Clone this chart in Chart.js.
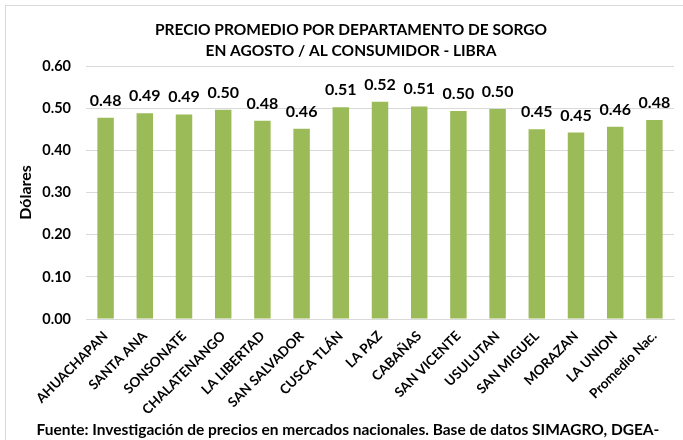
<!DOCTYPE html>
<html>
<head>
<meta charset="utf-8">
<script src="https://cdn.jsdelivr.net/npm/chart.js@4.4.0/dist/chart.umd.min.js"></script>
<style>
  html, body { margin: 0; padding: 0; background: #ffffff; }
  #wrap { position: absolute; left: 0; top: 0; width: 683px; height: 440px; }
</style>
</head>
<body>
<div id="wrap"><canvas id="c" width="683" height="440"></canvas></div>
<script>
const categories = ["AHUACHAPAN", "SANTA ANA", "SONSONATE", "CHALATENANGO", "LA LIBERTAD", "SAN SALVADOR", "CUSCA TLÁN", "LA PAZ", "CABAÑAS", "SAN VICENTE", "USULUTAN", "SAN MIGUEL", "MORAZAN", "LA UNION", "Promedio Nac."];
const prices = [0.477, 0.488, 0.485, 0.496, 0.470, 0.451, 0.502, 0.515, 0.504, 0.493, 0.498, 0.450, 0.442, 0.456, 0.472];
const priceLabels = ["0.48", "0.49", "0.49", "0.50", "0.48", "0.46", "0.51", "0.52", "0.51", "0.50", "0.50", "0.45", "0.45", "0.46", "0.48"];
const yTicks = [0, 0.1, 0.2, 0.3, 0.4, 0.5, 0.6];
const titleLines = ["PRECIO PROMEDIO POR DEPARTAMENTO DE SORGO", "EN AGOSTO / AL CONSUMIDOR - LIBRA"];
const footerText = "Fuente: Investigación de precios en mercados nacionales. Base de datos SIMAGRO, DGEA-";
const yTitle = "Dólares";

const FONT = "Lato, 'Open Sans', sans-serif";

const decorPlugin = {
  id: 'decor',
  beforeDraw(chart) {
    const ctx = chart.ctx;
    ctx.save();
    ctx.fillStyle = '#ffffff';
    ctx.fillRect(0, 0, chart.width, chart.height);
    ctx.strokeStyle = '#d9d9d9';
    ctx.lineWidth = 1;
    ctx.strokeRect(5.5, 5.5, 700, 460);
    ctx.restore();
  },
  afterDraw(chart) {
    const ctx = chart.ctx;
    ctx.save();
    ctx.fillStyle = '#000000';
    ctx.textAlign = 'center';
    ctx.textBaseline = 'middle';
    ctx.font = "bold 15.5px " + FONT;
    ctx.fillText(titleLines[0], 351, 30);
    ctx.fillText(titleLines[1], 351, 51);
    ctx.font = "bold 15.5px " + FONT;
    ctx.fillText(footerText, 348, 430);
    // data labels
    ctx.font = "bold 16px " + FONT;
    ctx.textBaseline = 'alphabetic';
    const meta = chart.getDatasetMeta(0);
    meta.data.forEach((bar, i) => {
      ctx.fillText(priceLabels[i], bar.x, bar.y - 12);
    });
    ctx.restore();
  }
};

new Chart(document.getElementById('c'), {
  type: 'bar',
  data: {
    labels: categories,
    datasets: [{
      data: prices,
      backgroundColor: '#9BBB59',
      borderWidth: 0,
      categoryPercentage: 1.0,
      barPercentage: 0.42
    }]
  },
  options: {
    responsive: false,
    animation: false,
    layout: { padding: { top: 66, right: 9, bottom: 0, left: 0 } },
    plugins: {
      legend: { display: false },
      tooltip: { enabled: false },
      title: { display: false }
    },
    scales: {
      x: {
        grid: { display: false, drawTicks: false },
        border: { color: '#d9d9d9', width: 1 },
        ticks: {
          color: '#000000',
          font: { family: FONT, weight: 'bold', size: 13.5 },
          minRotation: 45,
          maxRotation: 45,
          autoSkip: false,
          padding: 9
        },
        afterFit(scale) { scale.height = 121; }
      },
      y: {
        min: 0,
        max: 0.6,
        afterBuildTicks(scale) { scale.ticks = yTicks.map(v => ({ value: v })); },
        grid: { color: '#d9d9d9', lineWidth: 1, drawTicks: false },
        border: { display: false },
        ticks: {
          color: '#000000',
          font: { family: FONT, weight: 'bold', size: 14.5 },
          padding: 15,
          callback: (v) => Number(v).toFixed(2)
        },
        title: {
          display: true,
          text: yTitle,
          color: '#000000',
          font: { family: FONT, weight: 'bold', size: 16 },
          padding: { top: 16, bottom: 0 }
        },
        afterFit(scale) { scale.width = 86; }
      }
    }
  },
  plugins: [decorPlugin]
});
</script>
</body>
</html>
